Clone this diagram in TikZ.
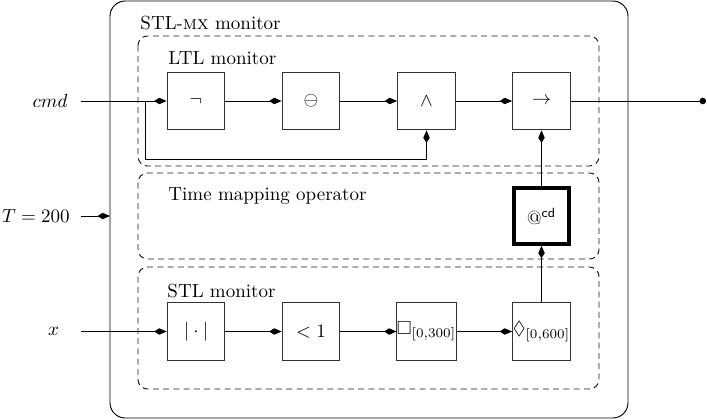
\documentclass[tikz,border=0pt]{standalone}
\usepackage{amssymb}
\usetikzlibrary{arrows.meta}
\begin{document}
\begin{tikzpicture}[
        x=0.0185cm, y=-0.0185cm,
        block/.style={
            draw=black!80,
            minimum width=1.07cm,
            minimum height=1.07cm,
            inner sep=0pt
        },
        opblock/.style={
            draw,
            line width=2pt,
            minimum width=1.03cm,
            minimum height=1.03cm,
            inner sep=0pt
        },
        group/.style={draw=black!90, dash pattern=on 3.2pt off 2.2pt, rounded corners=5pt},
        title/.style={anchor=base west, inner sep=0pt},
        sig/.style={-{Kite[length=6.5pt,width=3.4pt,inset=2.6pt]}},
        every path/.style={line width=0.5pt}
    ]

    \useasboundingbox (0,0) rectangle (707,420);

    % frames
    \draw[rounded corners=8pt] (110,1) rectangle (628,418);
    \draw[group] (138,36) rectangle (599,166);
    \draw[group] (138,173) rectangle (599,259);
    \draw[group] (138,267) rectangle (599,389);

    \node[title] (mxlabel) at (140,30) {STL-\textsc{mx} monitor};
    \node[title] (ltllabel) at (168,65) {LTL monitor};
    \node[title] (tmolabel) at (168,200) {Time mapping operator};
    \node[title] (stllabel) at (167,297) {STL monitor};

    % inputs
    \node[anchor=east, inner xsep=0.24cm] (cmd) at (81,101) {$cmd$};
    \node[anchor=east, inner xsep=0.2cm] (tval) at (81,216) {$T=200$};
    \node[anchor=east, inner xsep=0.4cm] (x) at (81,331.5) {$x$};
    \coordinate (mxw) at (110,216);
    \coordinate (split) at (145,101);
    \coordinate (fb) at (145,159);
    \coordinate (out) at (706,101);

    % LTL part
    \node[block] (neg) at (196,101) {$\neg$};
    \node[block] (ominus) at (311,101) {$\ominus$};
    \node[block] (and) at (426.5,101) {$\wedge$};
    \node[block] (impl) at (541.5,101) {$\rightarrow$};

    % time mapping
    \node[opblock] (atcd) at (541.5,216) {$@^{\mathsf{cd}}$};

    % STL part
    \node[block] (abs) at (196,331.5) {$|\cdot|$};
    \node[block] (lt) at (311,331.5) {$<1$};
    \node[block] (glob) at (426.5,331.5) {$\Box_{[0,300]}$};
    \node[block] (ev) at (541.5,331.5) {$\Diamond_{[0,600]}$};

    \draw[sig] (cmd.east) -- (neg);
    \draw[sig] (split) -- (fb) -| (and.south);
    \draw[sig] (neg) -- (ominus);
    \draw[sig] (ominus) -- (and);
    \draw[sig] (and) -- (impl);
    \draw[-{Circle[length=3.4pt]}] (impl) -- (out);
    \draw[sig] (atcd) -- (impl);
    \draw[sig] (tval.east) -- (mxw);
    \draw[sig] (x.east) -- (abs);
    \draw[sig] (abs) -- (lt);
    \draw[sig] (lt) -- (glob);
    \draw[sig] (glob) -- (ev);
    \draw[sig] (ev) -- (atcd);

\end{tikzpicture}
\end{document}
